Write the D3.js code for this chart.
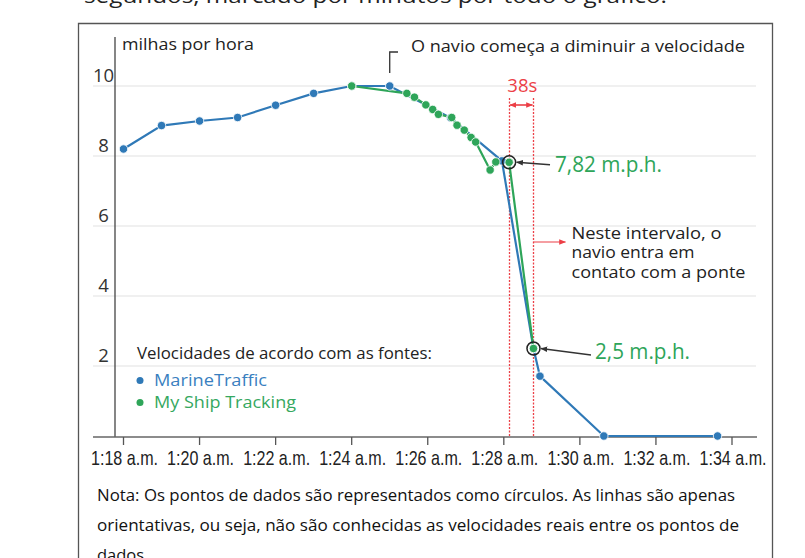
<!DOCTYPE html>
<html>
<head>
<meta charset="utf-8">
<script src="https://cdn.jsdelivr.net/npm/d3@7"></script>
<style>
  body { margin: 0; background: #fff; }
  svg { display: block; font-family: "Open Sans", sans-serif; }
</style>
</head>
<body>
<div id="chart"></div>
<script>
// minutes after 1:00 a.m.
const mtTime = [18, 19, 20, 21, 22, 23, 24, 25, 26.6, 27.95, 28.78, 28.95, 30.63, 33.62];
const mtSpeed = [8.2, 8.87, 9.0, 9.1, 9.45, 9.79, 10.0, 10.0, 9.09, 7.86, 2.5, 1.71, 0, 0];
const mstTime = [24, 25.45, 25.65, 25.95, 26.13, 26.28, 26.63, 26.77, 26.96, 27.14, 27.26, 27.64, 27.79, 28.14, 28.78];
const mstSpeed = [10.0, 9.79, 9.68, 9.46, 9.33, 9.19, 9.1, 8.88, 8.74, 8.53, 8.4, 7.6, 7.83, 7.82, 2.5];
const tickMinutes = [18, 20, 22, 24, 26, 28, 30, 32, 34];
const yTicks = [2, 4, 6, 8, 10];
const contactTimes = [28.14, 28.78]; // 38s window
const noteLines = [
  "Nota: Os pontos de dados são representados como círculos. As linhas são apenas",
  "orientativas, ou seja, não são conhecidas as velocidades reais entre os pontos de",
  "dados"
];

const BLUE = "#2f79b7";
const GREEN = "#2ea559";
const RED = "#ec3f46";

const W = 805, H = 558;
const svg = d3.select("#chart").append("svg").attr("width", W).attr("height", H);

const x = d3.scaleLinear().domain([18, 34]).range([123.5, 732]);
const y = d3.scaleLinear().domain([0, 10]).range([436, 86]);

// cut-off line of text above the box
svg.append("text")
  .attr("x", 84).attr("y", 3)
  .attr("font-size", 20).attr("fill", "#222")
  .attr("textLength", 583).attr("lengthAdjust", "spacingAndGlyphs")
  .text("segundos, marcado por minutos por todo o gráfico.");

// box
svg.append("path")
  .attr("d", "M78.5,558 V23.5 H772.5 V558")
  .attr("fill", "none").attr("stroke", "#555").attr("stroke-width", 1.3);

// grid
svg.append("g").selectAll("line").data(yTicks).join("line")
  .attr("x1", 93).attr("x2", 756)
  .attr("y1", d => y(d)).attr("y2", d => y(d))
  .attr("stroke", "#ebebeb").attr("stroke-width", 1.3);

// y labels
svg.append("g").selectAll("text").data(yTicks).join("text")
  .attr("x", 103.5).attr("y", d => y(d) - 4)
  .attr("text-anchor", "middle").attr("font-size", 18.5).attr("fill", "#333")
  .text(d => d);

// y axis line
svg.append("line")
  .attr("x1", 115).attr("x2", 115).attr("y1", 37).attr("y2", 437)
  .attr("stroke", "#444").attr("stroke-width", 1.3);

svg.append("text")
  .attr("x", 122).attr("y", 50).attr("font-size", 17).attr("fill", "#222")
  .attr("textLength", 132).attr("lengthAdjust", "spacingAndGlyphs")
  .text("milhas por hora");

// x axis
const xAxis = svg.append("g").attr("transform", "translate(0,437)");
xAxis.append("line").attr("x1", 93).attr("x2", 757)
  .attr("stroke", "#666").attr("stroke-width", 1.5);
xAxis.selectAll("line.tick").data(tickMinutes).join("line")
  .attr("class", "tick")
  .attr("x1", d => x(d)).attr("x2", d => x(d)).attr("y1", 0).attr("y2", 8)
  .attr("stroke", "#555").attr("stroke-width", 1.3);
xAxis.selectAll("text").data(tickMinutes).join("text")
  .attr("x", d => x(d) + 1).attr("y", 28)
  .attr("text-anchor", "middle")
  .attr("font-family", "Liberation Sans, Arial, sans-serif")
  .attr("font-size", 21).attr("fill", "#222")
  .attr("textLength", 67).attr("lengthAdjust", "spacingAndGlyphs")
  .text(d => `1:${d} a.m.`);

// red 38s window
svg.append("g").selectAll("line").data(contactTimes).join("line")
  .attr("x1", d => Math.round(x(d)) + 0.5).attr("x2", d => Math.round(x(d)) + 0.5)
  .attr("y1", 98).attr("y2", 436)
  .attr("stroke", RED).attr("stroke-width", 1.3).attr("stroke-dasharray", "2,1.5");

const defs = svg.append("defs");
[["arRed", RED], ["arGray", "#333"]].forEach(([id, c]) => {
  defs.append("marker").attr("id", id)
    .attr("viewBox", "0 0 10 10").attr("refX", 9).attr("refY", 5)
    .attr("markerWidth", 7).attr("markerHeight", 7).attr("orient", "auto-start-reverse")
    .attr("markerUnits", "userSpaceOnUse")
    .append("path").attr("d", "M0,1 L10,5 L0,9 Z").attr("fill", c);
});

svg.append("line")
  .attr("x1", x(contactTimes[0]) + 1).attr("x2", x(contactTimes[1]) - 1)
  .attr("y1", 105).attr("y2", 105)
  .attr("stroke", RED).attr("stroke-width", 1.6)
  .attr("marker-start", "url(#arRed)").attr("marker-end", "url(#arRed)");
svg.append("text")
  .attr("x", (x(contactTimes[0]) + x(contactTimes[1])) / 2 + 1).attr("y", 92)
  .attr("text-anchor", "middle").attr("font-size", 18.5).attr("fill", RED)
  .text("38s");

// lines
const line = d3.line().x(d => x(d[0])).y(d => y(d[1]));
const mt = mtTime.map((t, i) => [t, mtSpeed[i]]);
const mst = mstTime.map((t, i) => [t, mstSpeed[i]]);

svg.append("path").datum(mt).attr("d", line)
  .attr("fill", "none").attr("stroke", BLUE).attr("stroke-width", 2.2);
svg.append("path").datum(mst).attr("d", line)
  .attr("fill", "none").attr("stroke", GREEN).attr("stroke-width", 2.2);

svg.append("g").selectAll("circle").data(mt).join("circle")
  .attr("cx", d => x(d[0])).attr("cy", d => y(d[1])).attr("r", 4.2)
  .attr("fill", BLUE).attr("stroke", "#fff").attr("stroke-width", 0.8);
svg.append("g").selectAll("circle").data(mst).join("circle")
  .attr("cx", d => x(d[0])).attr("cy", d => y(d[1])).attr("r", 4.2)
  .attr("fill", GREEN).attr("stroke", "#fff").attr("stroke-width", 0.8);

// highlighted points
const hi = mst.filter(d => contactTimes.includes(d[0]));
svg.append("g").selectAll("circle").data(hi).join("circle")
  .attr("cx", d => x(d[0])).attr("cy", d => y(d[1])).attr("r", 6.5)
  .attr("fill", "none").attr("stroke", "#222").attr("stroke-width", 1.5);

// annotation: 7,82
svg.append("line")
  .attr("x1", 550).attr("y1", y(hi[0][1]) + 2.5)
  .attr("x2", x(hi[0][0]) + 7.5).attr("y2", y(hi[0][1]))
  .attr("stroke", "#333").attr("stroke-width", 1.4).attr("marker-end", "url(#arGray)");
svg.append("text")
  .attr("x", 555).attr("y", 171.5).attr("font-size", 21).attr("fill", GREEN)
  .attr("textLength", 107).attr("lengthAdjust", "spacingAndGlyphs")
  .text("7,82 m.p.h.");

// annotation: 2,5
svg.append("line")
  .attr("x1", 591).attr("y1", 355)
  .attr("x2", x(hi[1][0]) + 7.5).attr("y2", y(hi[1][1]))
  .attr("stroke", "#333").attr("stroke-width", 1.4).attr("marker-end", "url(#arGray)");
svg.append("text")
  .attr("x", 595).attr("y", 358.5).attr("font-size", 21).attr("fill", GREEN)
  .attr("textLength", 95).attr("lengthAdjust", "spacingAndGlyphs")
  .text("2,5 m.p.h.");

// contact annotation
svg.append("line")
  .attr("x1", x(contactTimes[1])).attr("x2", x(contactTimes[1]) + 32)
  .attr("y1", 242).attr("y2", 242)
  .attr("stroke", RED).attr("stroke-width", 1.2).attr("marker-end", "url(#arRed)");
const contactText = ["Neste intervalo, o", "navio entra em", "contato com a ponte"];
const contactW = [150, 123, 174];
svg.append("g").selectAll("text").data(contactText).join("text")
  .attr("x", 571.5).attr("y", (d, i) => 238.5 + i * 19.5)
  .attr("font-size", 17).attr("fill", "#222")
  .attr("textLength", (d, i) => contactW[i]).attr("lengthAdjust", "spacingAndGlyphs")
  .text(d => d);

// "slows down" annotation
svg.append("path")
  .attr("d", `M${x(25)},73 V52 H398`)
  .attr("fill", "none").attr("stroke", "#333").attr("stroke-width", 1.3);
svg.append("text")
  .attr("x", 411).attr("y", 52).attr("font-size", 17).attr("fill", "#222")
  .attr("textLength", 334).attr("lengthAdjust", "spacingAndGlyphs")
  .text("O navio começa a diminuir a velocidade");

// legend
svg.append("text")
  .attr("x", 137).attr("y", 358.5).attr("font-size", 17).attr("fill", "#222")
  .attr("textLength", 295).attr("lengthAdjust", "spacingAndGlyphs")
  .text("Velocidades de acordo com as fontes:");
const legend = [["MarineTraffic", BLUE, "#3a7fbf", 385.5, 113], ["My Ship Tracking", GREEN, "#35a860", 407.5, 142]];
legend.forEach(([name, c, tc, yy, w]) => {
  svg.append("circle").attr("cx", 140).attr("cy", yy - 5).attr("r", 3.5).attr("fill", c);
  svg.append("text").attr("x", 154).attr("y", yy)
    .attr("font-size", 17).attr("fill", tc)
    .attr("textLength", w).attr("lengthAdjust", "spacingAndGlyphs")
    .text(name);
});

// note
const noteW = [638, 642, null];
svg.append("g").selectAll("text").data(noteLines).join("text")
  .attr("x", 97).attr("y", (d, i) => 501 + i * 30)
  .attr("font-size", 16.5).attr("fill", "#111")
  .each(function (d, i) {
    if (noteW[i]) d3.select(this).attr("textLength", noteW[i]).attr("lengthAdjust", "spacingAndGlyphs");
  })
  .text(d => d);
</script>
</body>
</html>
